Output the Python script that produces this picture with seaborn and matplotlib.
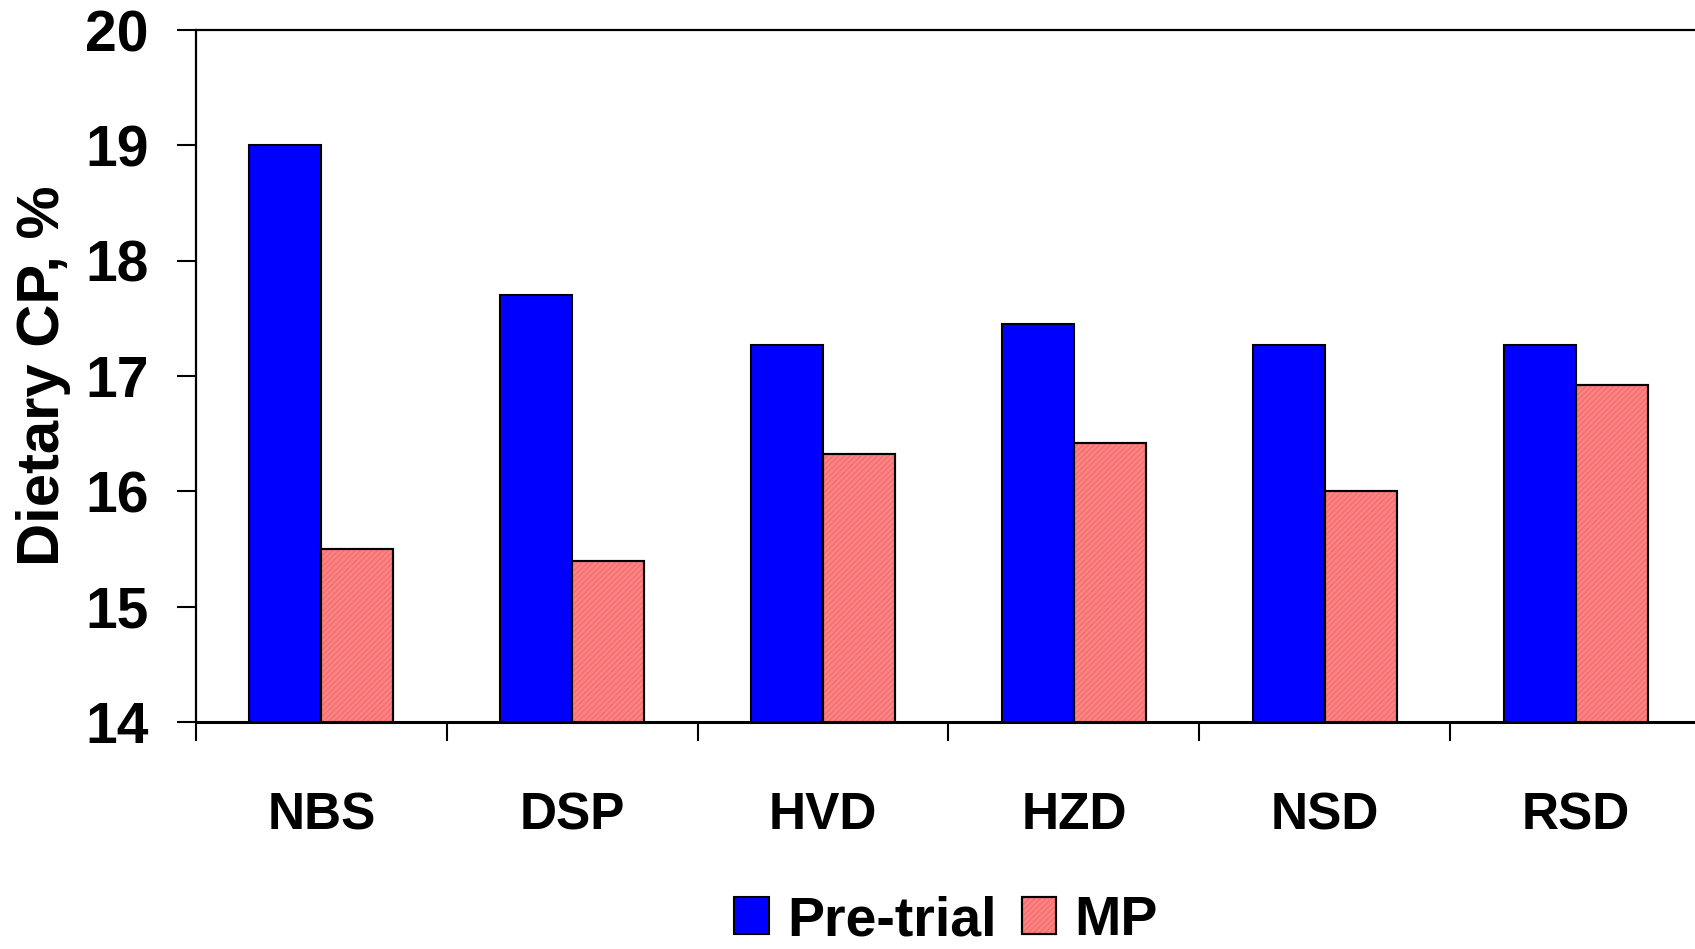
import matplotlib
matplotlib.use("Agg")
import matplotlib.pyplot as plt
from matplotlib.patches import Rectangle
from matplotlib.legend_handler import HandlerBase
import seaborn as sns
import pandas as pd

# Dietary crude protein by diet
diets = ["NBS", "DSP", "HVD", "HZD", "NSD", "RSD"]
pre_trial = [19.0, 17.7, 17.27, 17.45, 17.27, 17.27]
mp = [15.5, 15.4, 16.32, 16.42, 16.0, 16.92]
series_names = ["Pre-trial", "MP"]

df = pd.DataFrame({
    "diet": diets * 2,
    "cp": pre_trial + mp,
    "series": [series_names[0]] * len(diets) + [series_names[1]] * len(diets),
})

sns.set_theme(style="white")
plt.rcParams["font.family"] = ["Liberation Sans", "DejaVu Sans"]
plt.rcParams["hatch.linewidth"] = 0.7
for key in ["text.color", "axes.labelcolor", "xtick.color", "ytick.color",
            "axes.edgecolor"]:
    plt.rcParams[key] = "black"

BLUE = "#0000FF"
PINK = "#FF8282"
PINK_TEX = "#E86A6A"

fig = plt.figure(figsize=(16.95, 9.49), dpi=100)
ax = fig.add_axes([196 / 1695, 1 - 722 / 949, 1505 / 1695, 692 / 949])

sns.barplot(
    data=df, x="diet", y="cp", hue="series", order=diets,
    hue_order=series_names, palette={"Pre-trial": BLUE, "MP": PINK},
    width=0.574, saturation=1, edgecolor="black", linewidth=1.5,
    legend=False, ax=ax,
)

# fine diagonal texture on the MP bars
for bar in ax.containers[1]:
    ax.add_patch(Rectangle(bar.get_xy(), bar.get_width(), bar.get_height(),
                           facecolor="none", edgecolor=PINK_TEX, hatch="//////",
                           linewidth=0, zorder=bar.get_zorder() + 0.01))
    ax.add_patch(Rectangle(bar.get_xy(), bar.get_width(), bar.get_height(),
                           facecolor="none", edgecolor="black",
                           linewidth=1.5, zorder=bar.get_zorder() + 0.02))

ax.set_ylim(14, 20)
ax.set_xlim(-0.5, len(diets) - 0.5)
ax.set_yticks([14, 15, 16, 17, 18, 19, 20])
ax.set_xlabel("")
ax.set_ylabel("Dietary CP, %", fontsize=43, fontweight="bold", labelpad=10)

for s in ["left", "bottom", "top"]:
    ax.spines[s].set_visible(True)
    ax.spines[s].set_color("black")
    ax.spines[s].set_linewidth(1.6)
ax.spines["bottom"].set_linewidth(2.2)
ax.spines["right"].set_visible(False)

ax.tick_params(axis="y", which="major", direction="out", length=14, width=1.5,
               color="black", pad=20, labelsize=41, left=True)
for lab in ax.get_yticklabels():
    lab.set_fontweight("bold")

ax.set_xticks(range(len(diets)))
ax.set_xticklabels(diets, fontsize=37, fontweight="bold")
ax.tick_params(axis="x", which="major", length=0, pad=50)
ax.set_xticks([i - 0.5 for i in range(len(diets))], minor=True)
ax.tick_params(axis="x", which="minor", direction="out", length=14, width=1.5,
               color="black", bottom=True)


class TexturedHandler(HandlerBase):
    def __init__(self, face, textured):
        super().__init__()
        self.face = face
        self.textured = textured

    def create_artists(self, legend, orig_handle, xdescent, ydescent, width,
                       height, fontsize, trans):
        arts = [Rectangle((-xdescent, -ydescent), width, height,
                          facecolor=self.face, edgecolor="black",
                          linewidth=1.5, transform=trans)]
        if self.textured:
            arts.append(Rectangle((-xdescent, -ydescent), width, height,
                                  facecolor="none", edgecolor=PINK_TEX,
                                  hatch="//////", linewidth=0, transform=trans))
            arts.append(Rectangle((-xdescent, -ydescent), width, height,
                                  facecolor="none", edgecolor="black",
                                  linewidth=1.5, transform=trans))
        return arts


h_pre = Rectangle((0, 0), 1, 1)
h_mp = Rectangle((0, 0), 1, 1)
leg = fig.legend(
    [h_pre, h_mp], series_names,
    handler_map={h_pre: TexturedHandler(BLUE, False),
                 h_mp: TexturedHandler(PINK, True)},
    loc="center", bbox_to_anchor=(946 / 1695, 1 - 921 / 949), ncol=2,
    frameon=False, prop={"size": 40, "weight": "bold"},
    handlelength=0.62, handleheight=0.67, handletextpad=0.33,
    columnspacing=0.45, borderpad=0, borderaxespad=0,
)

fig.savefig("out.png", dpi=100)
